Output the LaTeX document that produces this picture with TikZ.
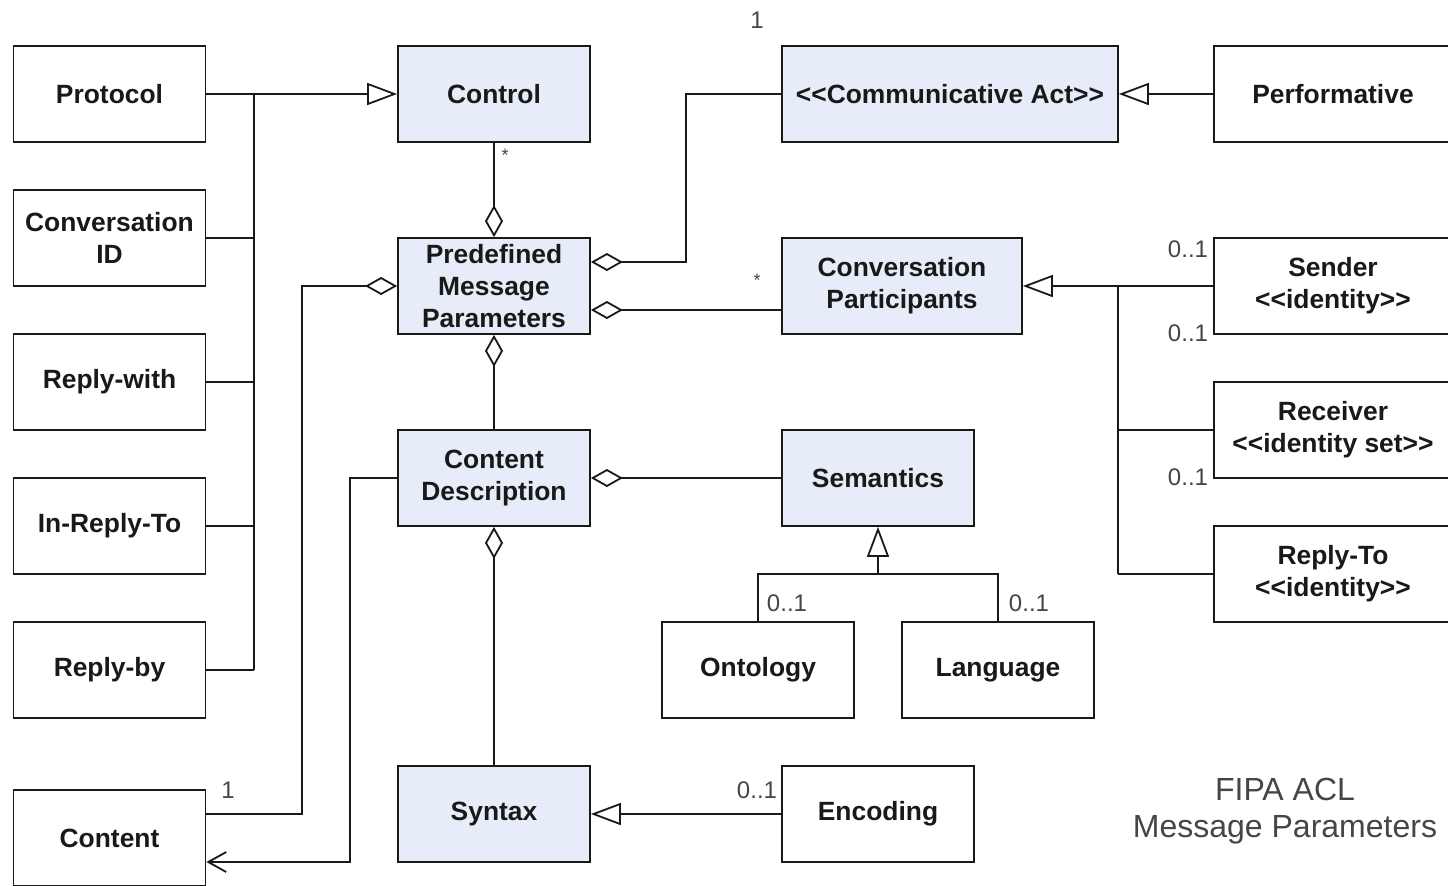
\documentclass[tikz,border=0pt]{standalone}
\usepackage{fontspec}
\setmainfont{Liberation Sans}
\usetikzlibrary{arrows.meta}
\definecolor{classfill}{RGB}{231,237,248}
\definecolor{ink}{RGB}{25,25,25}
\definecolor{labelgray}{RGB}{70,70,70}
% guillemet-free stereotype brackets
\newcommand{\stLeft}{<{}<}
\newcommand{\stRight}{>{}>}
\begin{document}
\begin{tikzpicture}[x=0.5pt,y=-0.5pt,
  line width=0.9pt, draw=ink,
  box/.style={draw=ink, rectangle, inner sep=0pt, align=center,
    minimum width=96pt, minimum height=48pt,
    font=\bfseries\fontsize{13.2}{16}\selectfont, text=ink},
  core/.style={box, fill=classfill},
  mult/.style={font=\fontsize{12}{14}\selectfont, text=labelgray, inner sep=0pt},
  star/.style={font=\fontsize{9}{10}\selectfont, text=labelgray, inner sep=0pt},
  gen/.style={-{Triangle[open,length=15pt,width=11pt]}},
  agg/.style={{Diamond[open,length=16pt,width=9pt]}-},
  nav/.style={-{Straight Barb[length=9pt,width=10pt]}}
]
\clip (0,0) rectangle (1448,885);
\fill[white] (0,0) rectangle (1448,885);

% left column: control parameters and content
\node[box] (protocol)  at (109.5,94)  {Protocol};
\node[box] (convid)    at (109.5,238) {Conversation\\ID};
\node[box] (replywith) at (109.5,382) {Reply-with};
\node[box] (inreplyto) at (109.5,526) {In-Reply-To};
\node[box] (replyby)   at (109.5,670) {Reply-by};
\node[box] (content)   at (109.5,838) {Content};

% central classes
\node[core] (control) at (494,94)  {Control};
\node[core] (pmp)     at (494,286) {Predefined\\Message\\Parameters};
\node[core] (cd)      at (494,478) {Content\\Description};
\node[core] (syntax)  at (494,814) {Syntax};

\node[core, minimum width=168pt] (commact) at (950,94)  {\stLeft Communicative Act\stRight};
\node[core, minimum width=120pt] (cp)      at (902,286) {Conversation\\Participants};
\node[core] (semantics) at (878,478) {Semantics};

\node[box] (ontology) at (758,670) {Ontology};
\node[box] (language) at (998,670) {Language};
\node[box] (encoding) at (878,814) {Encoding};

% right column
\node[box, minimum width=119pt] (performative) at (1333,94)  {Performative};
\node[box, minimum width=119pt] (sender)       at (1333,286) {Sender\\\stLeft identity\stRight};
\node[box, minimum width=119pt] (receiver)     at (1333,430) {Receiver\\\stLeft identity set\stRight};
\node[box, minimum width=119pt] (replyto)      at (1333,574) {Reply-To\\\stLeft identity\stRight};

% generalisation bus towards Control
\coordinate (lbusTop) at (254,94);
\coordinate (lbusBot) at (254,670);
\draw[gen] (protocol.east) -- (control.west);
\draw (lbusTop) -- (lbusBot);
\draw (convid.east)    -- (convid.east -| lbusTop);
\draw (replywith.east) -- (replywith.east -| lbusTop);
\draw (inreplyto.east) -- (inreplyto.east -| lbusTop);
\draw (replyby.east)   -- (replyby.east -| lbusTop);

% aggregations along the central column
\draw[agg] (pmp.north) -- (control.south);
\draw[agg] (pmp.south) -- (cd.north);
\draw[agg] (cd.south) -- (syntax.north);
\node[star] (mstar1) at (505,155) {*};

% links to Content
\coordinate (cbendA) at (302,286);
\coordinate (cbendB) at (350,478);
\draw[agg] (pmp.west) -- (cbendA) |- ([yshift=12pt]content.east);
\draw[nav] (cd.west) -- (cbendB) |- ([yshift=-12pt]content.east);
\node[mult] (m1content) at (228,790) {1};

% links to Communicative Act and Conversation Participants
\coordinate (abend) at (686,262);
\draw[agg] ([yshift=12pt]pmp.east) -- (abend) |- (commact.west);
\node[mult] (m1act) at (757,20) {1};
\draw[agg] ([yshift=-12pt]pmp.east) -- ([yshift=-12pt]cp.west);
\node[star] (mstar2) at (757,280) {*};
\draw[gen] (performative.west) -- (commact.east);

% participants hierarchy
\coordinate (rbusTop) at (1118,286);
\coordinate (rbusBot) at (1118,574);
\draw[gen] (sender.west) -- (cp.east);
\draw (rbusTop) -- (rbusBot);
\draw (receiver.west) -- (receiver.west -| rbusTop);
\draw (replyto.west)  -- (replyto.west -| rbusTop);
\node[mult] (m01a) at (1188,249) {0..1};
\node[mult] (m01b) at (1188,333) {0..1};
\node[mult] (m01c) at (1188,477) {0..1};

% content description details
\draw[agg] (cd.east) -- (semantics.west);
\coordinate (sjoin) at (878,574);
\draw[gen] (sjoin) -- (semantics.south);
\draw (ontology.north) |- (sjoin) -| (language.north);
\node[mult] (m01d) at (787,603) {0..1};
\node[mult] (m01e) at (1029,603) {0..1};

\draw[gen] (encoding.west) -- (syntax.east);
\node[mult] (m01f) at (757,790) {0..1};

% caption
\node[font=\fontsize{16}{18.5}\selectfont, text=labelgray, align=center] (caption)
  at (1285,811) {FIPA ACL\\Message Parameters};
\end{tikzpicture}
\end{document}
